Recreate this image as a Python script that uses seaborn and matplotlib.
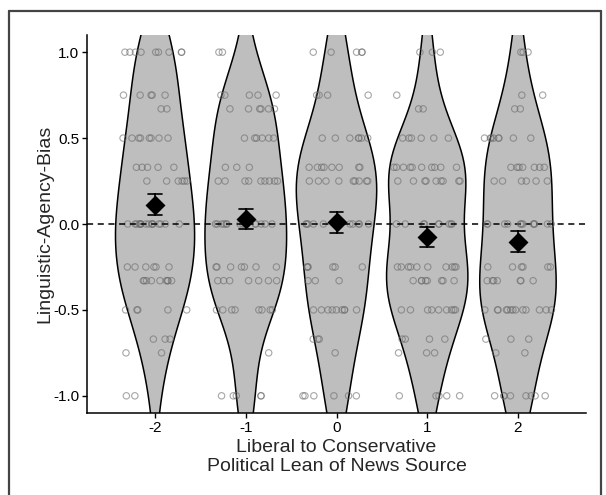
#!/usr/bin/env python3
import matplotlib
matplotlib.use("Agg")
import matplotlib.pyplot as plt
from matplotlib.lines import Line2D
import numpy as np
import pandas as pd
import seaborn as sns

# possible bias scores (rows of points in the chart)
levels = [1.0, 0.75, 0.67, 0.5, 0.33, 0.25, 0.0, -0.25, -0.33, -0.5, -0.67, -0.75, -1.0]

# political lean of the news source
leans = [-2, -1, 0, 1, 2]

# how many articles sit on each level, per lean
counts_m2 = [9, 5, 2, 8, 5, 6, 16, 6, 9, 5, 3, 2, 2]
counts_m1 = [2, 5, 6, 6, 3, 9, 14, 7, 7, 8, 0, 1, 5]
counts_0 = [5, 4, 0, 7, 8, 9, 12, 6, 3, 9, 3, 1, 6]
counts_p1 = [3, 1, 2, 6, 10, 9, 9, 10, 8, 9, 4, 3, 5]
counts_p2 = [3, 2, 2, 8, 7, 6, 12, 6, 7, 13, 3, 2, 8]

y_ticks = [-1.0, -0.5, 0.0, 0.5, 1.0]
x_label = "Liberal to Conservative\nPolitical Lean of News Source"
y_label = "Linguistic-Agency-Bias"


def build_frame() -> pd.DataFrame:
    frames = []
    for lean, counts in zip(leans, [counts_m2, counts_m1, counts_0, counts_p1, counts_p2]):
        values = np.repeat(levels, counts)
        frames.append(pd.DataFrame({"lean": lean, "bias": values}))
    return pd.concat(frames, ignore_index=True)


def main() -> None:
    df = build_frame()

    sns.set_style("ticks")
    plt.rcParams["font.family"] = ["Liberation Sans", "DejaVu Sans"]
    plt.rcParams["axes.unicode_minus"] = False

    fig = plt.figure(figsize=(6.06, 4.95), dpi=100)
    ax = fig.add_axes([87 / 606, 1 - 413 / 495, (586 - 87) / 606, (413 - 35) / 495])

    sns.violinplot(
        data=df, x="lean", y="bias", color="#bebebe", linecolor="black",
        linewidth=1.1, inner=None, cut=3, bw_adjust=1.1,
        density_norm="area", width=0.9, saturation=1, ax=ax,
    )
    n_before = len(ax.collections)
    np.random.seed(3)
    sns.stripplot(
        data=df, x="lean", y="bias", jitter=0.37, size=4.6,
        color="#6e6e6e", edgecolor="#6e6e6e", linewidth=0.8, alpha=0.6,
        ax=ax, zorder=3,
    )
    for coll in ax.collections[n_before:]:
        coll.set_facecolor("none")
        coll.set_edgecolor((0.42, 0.42, 0.42, 0.55))

    ax.axhline(0, color="black", linestyle=(0, (4, 3)), linewidth=1.1, zorder=4)

    sns.pointplot(
        data=df, x="lean", y="bias", errorbar="se", markers="D",
        linestyle="none", color="black", capsize=0.15, markersize=8,
        err_kws={"linewidth": 1.2}, ax=ax,
    )
    for line in ax.lines[-20:]:
        line.set_zorder(6)
    for coll in ax.collections[-1:]:
        coll.set_zorder(7)

    ax.set_xlim(-0.75, 4.75)
    ax.set_ylim(-1.1, 1.1)
    ax.set_yticks(y_ticks)
    ax.set_yticklabels([f"{t:.1f}" for t in y_ticks])
    ax.set_xticks(range(len(leans)))
    ax.set_xticklabels([str(v) for v in leans])
    ax.tick_params(axis="both", labelsize=11, colors="black", length=3.5, width=1, pad=2)
    ax.set_xlabel(x_label, fontsize=14, labelpad=3, linespacing=1.2)
    ax.set_ylabel(y_label, fontsize=14, labelpad=0)
    sns.despine(ax=ax)
    for side in ["left", "bottom"]:
        ax.spines[side].set_linewidth(1.1)
        ax.spines[side].set_color("black")

    # outer frame around the figure (open at the bottom)
    frame_kw = dict(color="#444444", linewidth=1.6, transform=fig.transFigure)
    x0, x1, ytop = 8.5 / 606, 600.5 / 606, 1 - 10.5 / 495
    fig.add_artist(Line2D([x0, x0], [0, ytop], **frame_kw))
    fig.add_artist(Line2D([x0, x1], [ytop, ytop], **frame_kw))
    fig.add_artist(Line2D([x1, x1], [0, ytop], **frame_kw))

    fig.savefig("out.png", dpi=100)
    plt.close(fig)


if __name__ == "__main__":
    main()
